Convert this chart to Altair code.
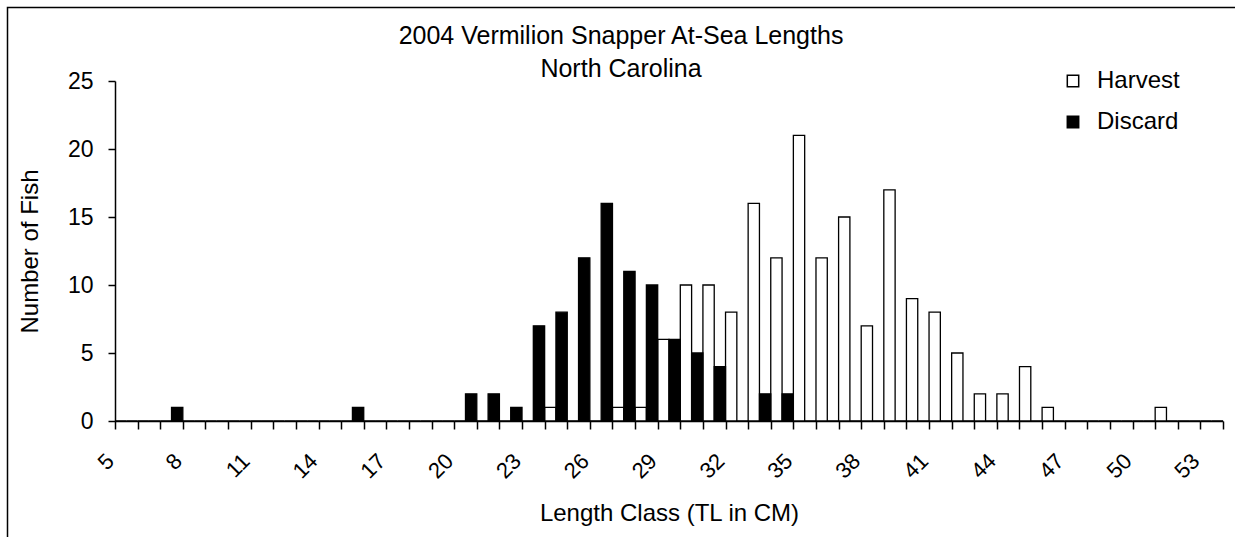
import altair as alt
import pandas as pd

# ---- data ----
lengths = list(range(5, 54))  # length classes 5..53 cm

harvest = [0, 0, 0, 0, 0, 0, 0, 0, 0, 0,      # 5-14
           0, 0, 0, 0, 0, 0, 0, 0, 0, 1,      # 15-24
           0, 0, 1, 1, 6, 10, 10, 8, 16, 12,  # 25-34
           21, 12, 15, 7, 17, 9, 8, 5, 2, 2,  # 35-44
           4, 1, 0, 0, 0, 0, 1, 0, 0]         # 45-53

discard = [0, 0, 1, 0, 0, 0, 0, 0, 0, 0,      # 5-14
           1, 0, 0, 0, 0, 2, 2, 1, 7, 8,      # 15-24
           12, 16, 11, 10, 6, 5, 4, 0, 2, 2,  # 25-34
           0, 0, 0, 0, 0, 0, 0, 0, 0, 0,      # 35-44
           0, 0, 0, 0, 0, 0, 0, 0, 0]         # 45-53

series_names = ["Harvest", "Discard"]
series_fill = ["white", "black"]
tick_values = list(range(5, 55))
y_ticks = [0, 5, 10, 15, 20, 25]

df = pd.DataFrame({
    "length": lengths * 2,
    "series": ["Harvest"] * len(lengths) + ["Discard"] * len(lengths),
    "count": harvest + discard,
})

FONT = "Liberation Sans"

bars = alt.Chart(df).transform_calculate(
    x0="datum.length + (datum.series == 'Discard' ? 0.5 : 0)",
    x1="datum.length + (datum.series == 'Discard' ? 1 : 0.5)",
).mark_rect(stroke="black", strokeWidth=1.3).encode(
    x=alt.X(
        "x0:Q",
        scale=alt.Scale(domain=[5, 54], nice=False, zero=False),
        axis=alt.Axis(
            values=tick_values,
            labelExpr="(datum.value - 5) % 3 == 0 ? datum.label : ''",
            format="d",
            labelAngle=315,
            labelAlign="right",
            labelBaseline="alphabetic",
            labelFontSize=22,
            labelPadding=33,
            labelFlush=False,
            labelOverlap=False,
            labelBound=False,
            tickSize=8,
            tickWidth=1.5,
            domainWidth=1.5,
            grid=False,
            title="Length Class (TL in CM)",
            titleFontSize=24,
            titleY=80,
        ),
    ),
    x2="x1:Q",
    y=alt.Y(
        "count:Q",
        scale=alt.Scale(domain=[0, 25], nice=False),
        axis=alt.Axis(
            values=y_ticks,
            labelFontSize=23,
            labelPadding=15,
            tickSize=7,
            tickWidth=1.5,
            domainWidth=1.5,
            grid=False,
            title="Number of Fish",
            titleFontSize=24,
            titleX=-73,
        ),
    ),
    y2=alt.datum(0),
    fill=alt.Fill(
        "series:N",
        scale=alt.Scale(domain=series_names, range=series_fill),
        legend=alt.Legend(
            title=None,
            orient="none",
            legendX=946,
            legendY=-12,
            symbolType="square",
            symbolSize=130,
            symbolStrokeColor="black",
            symbolStrokeWidth=1.5,
            labelFontSize=24,
            labelOffset=12,
            rowPadding=17,
        ),
    ),
)

border = alt.Chart(pd.DataFrame({"z": [0]})).mark_rect(
    fill="transparent", stroke="black", strokeWidth=1.5
).encode(
    x=alt.value(-107.5), x2=alt.value(1150),
    y=alt.value(-73.5), y2=alt.value(500),
)

chart = alt.layer(border, bars).properties(
    width=1108,
    height=340,
    title=alt.TitleParams(
        text=["2004 Vermilion Snapper At-Sea Lengths", "North Carolina"],
        fontSize=25,
        font=FONT,
        fontWeight="normal",
        color="black",
        anchor="middle",
        frame="group",
        dx=-48,
        dy=75,
        offset=0,
        lineHeight=33,
    ),
    autosize=alt.AutoSizeParams(type="none"),
    padding={"left": 115, "top": 81, "right": 12, "bottom": 116},
).configure_view(
    stroke=None
).configure_axis(
    labelFont=FONT, titleFont=FONT, labelColor="black", titleColor="black",
    domainColor="black", tickColor="black", titleFontWeight="normal",
).configure_legend(
    labelFont=FONT, labelColor="black",
)

chart.save("out.html", embed_options={"renderer": "svg", "actions": False})
